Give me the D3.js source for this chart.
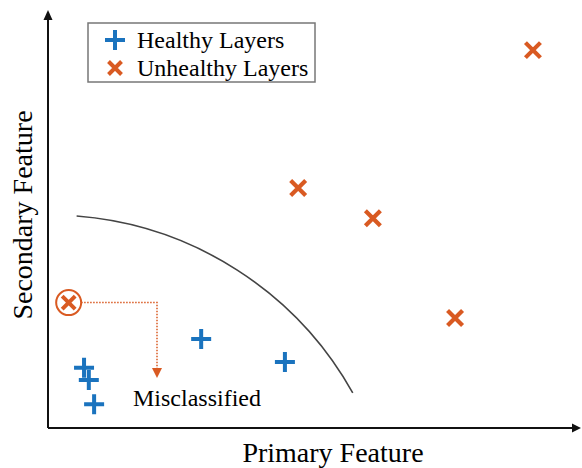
<!DOCTYPE html>
<html><head><meta charset="utf-8">
<script src="https://cdn.jsdelivr.net/npm/d3@7"></script>
</head><body>
<script>
const healthyX = [6.8, 7.7, 8.7, 28.9, 44.7];
const healthyY = [14.4, 11.5, 5.7, 21.3, 15.8];
const unhealthyX = [47.2, 61.3, 76.8, 91.5];
const unhealthyY = [57.4, 50.2, 26.3, 90.4];
const misX = [3.9];
const misY = [30.0];
// decision boundary: circular arc from start to end around a centre
const boundaryStart = [5.4, 50.7];
const boundaryEnd = [57.5, 8.4];
const boundaryCenter = [0.1, -32.1];
const seriesNames = ["Healthy Layers", "Unhealthy Layers"];
const xLabel = "Primary Feature", yLabel = "Secondary Feature", annotation = "Misclassified";

const W = 582, H = 468;
d3.select("body").style("margin", "0px");
const svg = d3.select("body").append("svg").attr("width", W).attr("height", H).style("display", "block");
const x = d3.scaleLinear().domain([0, 100]).range([48, 578]);
const y = d3.scaleLinear().domain([0, 100]).range([428, 10]);
const blue = "#1a73be", orange = "#d95a22";

// axes
svg.append("line").attr("x1", x(0)).attr("x2", x(100)-6).attr("y1", y(0)).attr("y2", y(0)).attr("stroke", "#111").attr("stroke-width", 2);
svg.append("line").attr("x1", x(0)).attr("x2", x(0)).attr("y1", y(0)).attr("y2", y(100)+8).attr("stroke", "#111").attr("stroke-width", 2);
svg.append("path").attr("d", `M${x(100)+3},${y(0)} l-9,-4.5 l0,9 z`).attr("fill", "#111");
svg.append("path").attr("d", `M${x(0)},${y(100)} l-4.5,10 l9,0 z`).attr("fill", "#111");

// boundary arc
{
  const sx = x(boundaryStart[0]), sy = y(boundaryStart[1]);
  const ex = x(boundaryEnd[0]), ey = y(boundaryEnd[1]);
  const cx = x(boundaryCenter[0]), cy = y(boundaryCenter[1]);
  const r = Math.hypot(sx-cx, sy-cy);
  svg.append("path").attr("d", `M${sx},${sy}A${r},${r} 0 0 1 ${ex},${ey}`)
    .attr("fill","none").attr("stroke","#444").attr("stroke-width",1.6);
}

// healthy plus markers
healthyX.forEach((v,i)=>{
  const cx = x(v), cy = y(healthyY[i]);
  svg.append("path").attr("d", `M${cx-10},${cy}H${cx+10}M${cx},${cy-10}V${cy+10}`).attr("stroke", blue).attr("stroke-width", 4);
});
function xMark(g, cx, cy, s, w){
  g.append("path").attr("d", `M${cx-s},${cy-s}L${cx+s},${cy+s}M${cx-s},${cy+s}L${cx+s},${cy-s}`).attr("stroke", orange).attr("stroke-width", w).attr("stroke-linecap","butt");
}
unhealthyX.forEach((v,i)=> xMark(svg, x(v), y(unhealthyY[i]), 7.5, 4.2));

// misclassified
misX.forEach((v,i)=>{
  const cx = x(v), cy = y(misY[i]);
  svg.append("circle").attr("cx", cx).attr("cy", cy).attr("r", 12.5).attr("fill","#fff").attr("stroke", orange).attr("stroke-width", 2);
  xMark(svg, cx, cy, 6.5, 4);
  const ex = 157, ey = 368;
  svg.append("path").attr("d", `M${cx+12.5},${cy}H${ex}V${ey}`).attr("fill","none").attr("stroke", orange).attr("stroke-width",1.5).attr("stroke-dasharray","1.5,1.5");
  svg.append("path").attr("d", `M${ex-5},${ey}L${ex+5},${ey}L${ex},${ey+10}Z`).attr("fill", orange);
});
function label(t, size){ return t.attr("font-size", size).style("font-family", '"Liberation Serif"'); }
label(svg.append("text").attr("x", 133).attr("y", 406), 24).text(annotation);

// legend
svg.append("rect").attr("x", 88).attr("y", 23).attr("width", 227).attr("height", 59).attr("fill","#fff").attr("stroke","#777").attr("stroke-width",1.5);
svg.append("path").attr("d", `M105,40H125M115,30V50`).attr("stroke", blue).attr("stroke-width", 4);
xMark(svg, 115, 68, 6.5, 4);
label(svg.append("text").attr("x", 137).attr("y", 48), 24).text(seriesNames[0]);
label(svg.append("text").attr("x", 137).attr("y", 76), 24).text(seriesNames[1]);

// axis labels
label(svg.append("text").attr("x", 333).attr("y", 462).attr("text-anchor","middle"), 28).text(xLabel);
label(svg.append("text").attr("transform","translate(32,215) rotate(-90)").attr("text-anchor","middle"), 28).text(yLabel);
</script>
</body></html>
